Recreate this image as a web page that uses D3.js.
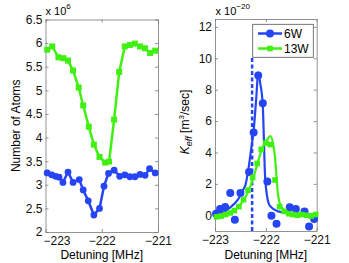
<!DOCTYPE html>
<html>
<head>
<meta charset="utf-8">
<script src="https://cdn.jsdelivr.net/npm/d3@7/dist/d3.min.js"></script>
<style>
  body { margin: 0; background: #fff; }
  text { font-family: "Liberation Sans", Arial, sans-serif; }
</style>
</head>
<body>
<svg id="chart"></svg>
<script>
// left panel: number of atoms vs detuning
const det6W = [-222.97, -222.89, -222.82, -222.76, -222.69, -222.60, -222.51, -222.40, -222.33, -222.24,
  -222.14, -222.04, -221.96, -221.88, -221.78, -221.68, -221.59, -221.50, -221.41, -221.32, -221.23, -221.15, -221.05];
const atoms6W = [3.25, 3.21, 3.18, 3.16, 3.05, 3.27, 3.05, 3.11, 2.89, 2.66,
  2.36, 2.50, 2.97, 3.24, 3.31, 3.18, 3.21, 3.17, 3.17, 3.22, 3.20, 3.34, 3.25];
const det13W = [-222.97, -222.88, -222.77, -222.68, -222.60, -222.51, -222.41, -222.33, -222.23, -222.14, -222.04,
  -221.94, -221.87, -221.78, -221.69, -221.59, -221.50, -221.41, -221.32, -221.23, -221.14, -221.05];
const atoms13W = [5.86, 5.93, 5.70, 5.68, 5.63, 5.42, 5.06, 4.68, 4.23, 3.85, 3.59,
  3.47, 3.49, 4.38, 5.39, 5.93, 5.96, 5.99, 5.93, 5.89, 5.79, 5.84];

// right panel: K_eff data points
const kDet6W = [-222.98, -222.90, -222.80, -222.70, -222.61, -222.50, -222.33, -222.24, -222.15, -222.06,
  -221.97, -221.89, -221.79, -221.53, -221.41, -221.24, -221.15, -221.05];
const keff6W = [0.1, 0.4, 0.53, 1.42, -0.29, 1.42, 2.76, 5.27, 8.91, 7.14,
  2.16, -0.03, -0.54, 0.52, 0.4, 0.24, -0.72, -0.24];
const kDet13W = [-222.97, -222.88, -222.79, -222.70, -222.62, -222.53, -222.44, -222.35, -222.26, -222.17, -222.09,
  -222.00, -221.91, -221.82, -221.73, -221.64, -221.55, -221.47, -221.38, -221.29, -221.20, -221.11, -221.02];
const keff13W = [-0.1, -0.05, 0.05, 0.15, 0.3, 0.55, 1.0, 1.6, 2.4, 3.3, 4.2,
  4.6, 4.5, 2.25, 0.55, 0.25, 0.1, 0.05, 0.0, 0.05, 0.0, -0.05, 0.05];

// fitted curves
const fitDet6W = [-223.0, -222.86, -222.70, -222.55, -222.45, -222.40, -222.34, -222.29, -222.24, -222.19, -222.15,
  -222.11, -222.06, -222.04, -222.02, -221.98, -221.92, -221.76, -221.53, -221.0];
const fitK6W = [0.05, 0.15, 0.5, 1.0, 1.6, 1.95, 3.0, 4.2, 5.4, 7.4, 9.1,
  8.4, 7.0, 5.0, 2.8, 1.3, 0.6, 0.25, 0.12, 0.03];
const fitDet13W = [-223.0, -222.80, -222.61, -222.45, -222.31, -222.19, -222.08, -221.98, -221.91, -221.86,
  -221.82, -221.76, -221.69, -221.56, -221.33, -221.0];
const fitK13W = [0.0, 0.1, 0.35, 0.9, 1.8, 3.0, 4.2, 4.8, 5.05, 4.6,
  3.7, 1.3, 0.5, 0.18, 0.08, 0.03];

const markerLine = -222.27;
const xTicks = [-223, -222, -221];
const yTicksLeft = [2, 2.5, 3, 3.5, 4, 4.5, 5, 5.5, 6, 6.5];
const yTicksRight = [0, 2, 4, 6, 8, 10, 12];
const legendNames = ['6W', '13W'];

const blue = '#2545f5';
const green = '#40f010';
const svgWidth = 349, svgHeight = 263;

const svg = d3.select('#chart').attr('width', svgWidth).attr('height', svgHeight);

function frame(x, y, yTicks, yFmt) {
  const g = svg.append('g');
  const [x0, x1] = x.range();
  const [y0, y1] = y.range();
  const xAxis = g.append('g').attr('transform', `translate(0,${y0})`)
    .call(d3.axisBottom(x).tickValues(xTicks).tickSizeInner(-3).tickSizeOuter(0).tickPadding(4).tickFormat(d3.format('d')));
  g.append('g').attr('transform', `translate(0,${y1})`)
    .call(d3.axisTop(x).tickValues(xTicks).tickSizeInner(-3).tickSizeOuter(0).tickFormat(''));
  g.append('g').attr('transform', `translate(${x0},0)`)
    .call(d3.axisLeft(y).tickValues(yTicks).tickSizeInner(-3).tickSizeOuter(0).tickPadding(3).tickFormat(yFmt));
  g.append('g').attr('transform', `translate(${x1},0)`)
    .call(d3.axisRight(y).tickValues(yTicks).tickSizeInner(-3).tickSizeOuter(0).tickFormat(''));
  g.selectAll('.domain').attr('stroke', '#777').attr('stroke-width', 0.8);
  g.selectAll('.tick line').attr('stroke', '#777').attr('stroke-width', 0.8);
  g.selectAll('.tick text').attr('font-size', '12px').attr('fill', '#111')
    .style('font-family', '"Liberation Sans", Arial, sans-serif');
  return xAxis;
}

// ---------- left panel ----------
const xL = d3.scaleLinear().domain([-223, -221]).range([45.5, 158]);
const yL = d3.scaleLinear().domain([2, 6.5]).range([232, 19.5]);
const xAxisL = frame(xL, yL, yTicksLeft, d3.format('~g'));
// first label sits a little right of its tick, clear of the "2"
xAxisL.selectAll('.tick text').filter(d => d === -223).attr('text-anchor', 'start').attr('x', -2.5);

const lineL = d3.line().x(d => xL(d[0])).y(d => yL(d[1]));
const green13 = d3.zip(det13W, atoms13W);
const blue6 = d3.zip(det6W, atoms6W);

svg.append('path').attr('d', lineL(green13)).attr('fill', 'none')
  .attr('stroke', green).attr('stroke-width', 2.5);
svg.selectAll('.sqL').data(green13).join('rect')
  .attr('x', d => xL(d[0]) - 3).attr('y', d => yL(d[1]) - 3)
  .attr('width', 6).attr('height', 6).attr('fill', green);

svg.append('path').attr('d', lineL(blue6)).attr('fill', 'none')
  .attr('stroke', blue).attr('stroke-width', 2.5);
svg.selectAll('.dotL').data(blue6).join('circle')
  .attr('cx', d => xL(d[0])).attr('cy', d => yL(d[1])).attr('r', 3.4).attr('fill', blue);

// exponent
svg.append('text').attr('x', 45.5).attr('y', 15).attr('font-size', '11px')
  .text('x 10').append('tspan').attr('dy', -6).attr('font-size', '8px').text('6');

// axis labels
svg.append('text').attr('text-anchor', 'middle').attr('font-size', '12px')
  .attr('transform', `translate(16,${(19.5 + 232) / 2}) rotate(-90)`).attr('dy', '0.35em')
  .text('Number of Atoms');
svg.append('text').attr('text-anchor', 'middle').attr('font-size', '12px')
  .attr('x', (45.5 + 158) / 2).attr('y', 258.5).text('Detuning [MHz]');

// ---------- right panel ----------
const xR = d3.scaleLinear().domain([-223, -221]).range([215, 316.7]);
const yR = d3.scaleLinear().domain([-1, 12.5]).range([231, 19]);
frame(xR, yR, yTicksRight, d3.format('d'));

const lineR = d3.line().x(d => xR(d[0])).y(d => yR(d[1])).curve(d3.curveMonotoneX);

svg.append('line')
  .attr('x1', xR(markerLine)).attr('x2', xR(markerLine))
  .attr('y1', yR(-1)).attr('y2', yR(10.15))
  .attr('stroke', blue).attr('stroke-width', 2.5).attr('stroke-dasharray', '4,2.5');

svg.append('path').attr('d', lineR(d3.zip(fitDet6W, fitK6W))).attr('fill', 'none')
  .attr('stroke', blue).attr('stroke-width', 2.2);
svg.selectAll('.dotR').data(d3.zip(kDet6W, keff6W)).join('circle')
  .attr('cx', d => xR(d[0])).attr('cy', d => yR(d[1])).attr('r', 4).attr('fill', blue);

svg.append('path').attr('d', lineR(d3.zip(fitDet13W, fitK13W))).attr('fill', 'none')
  .attr('stroke', green).attr('stroke-width', 2.2);
svg.selectAll('.sqR').data(d3.zip(kDet13W, keff13W)).join('rect')
  .attr('x', d => xR(d[0]) - 2.8).attr('y', d => yR(d[1]) - 2.8)
  .attr('width', 5.6).attr('height', 5.6).attr('fill', green);

svg.append('text').attr('x', 215.5).attr('y', 15).attr('font-size', '11px')
  .text('x 10').append('tspan').attr('dy', -6).attr('font-size', '8px').text('\u221220');

const yLab = svg.append('text').attr('text-anchor', 'middle').attr('font-size', '12px')
  .attr('transform', `translate(185,122) rotate(-90)`).attr('dy', '0.35em');
yLab.append('tspan').attr('font-style', 'italic').text('K');
yLab.append('tspan').attr('font-style', 'italic').attr('font-size', '9px').attr('dy', 3).text('eff');
yLab.append('tspan').attr('dy', -3).text(' [m');
yLab.append('tspan').attr('font-size', '8px').attr('dy', -5).text('3');
yLab.append('tspan').attr('dy', 5).text('/sec]');

svg.append('text').attr('text-anchor', 'middle').attr('font-size', '12px')
  .attr('x', (215 + 316.7) / 2).attr('y', 258.5).text('Detuning [MHz]');

// legend
const legend = svg.append('g').attr('class', 'legend');
legend.append('rect').attr('x', 252.7).attr('y', 24.3).attr('width', 60.6).attr('height', 33)
  .attr('fill', '#fff').attr('stroke', '#555').attr('stroke-width', 0.8);
legendNames.forEach((name, i) => {
  const ly = 33.5 + i * 15;
  const col = i === 0 ? blue : green;
  legend.append('line').attr('x1', 258).attr('x2', 282).attr('y1', ly).attr('y2', ly)
    .attr('stroke', col).attr('stroke-width', 2.5);
  if (i === 0) {
    legend.append('circle').attr('cx', 270).attr('cy', ly).attr('r', 4).attr('fill', col);
  } else {
    legend.append('rect').attr('x', 267.2).attr('y', ly - 2.8).attr('width', 5.6).attr('height', 5.6).attr('fill', col);
  }
  legend.append('text').attr('x', 284).attr('y', ly).attr('dy', '0.35em').attr('font-size', '12px').text(name);
});
</script>
</body>
</html>
